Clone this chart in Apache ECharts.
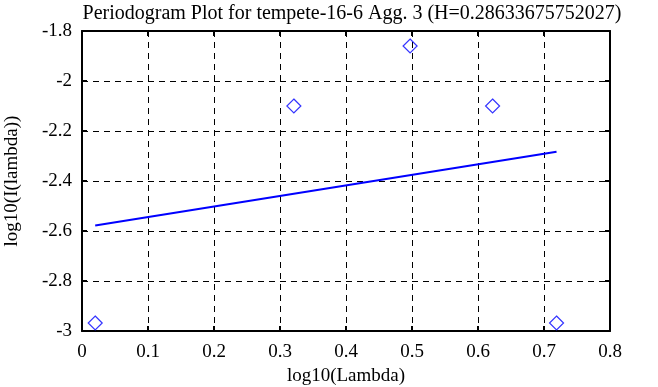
<!DOCTYPE html>
<html><head><meta charset="utf-8">
<script src="https://cdn.jsdelivr.net/npm/echarts@6/dist/echarts.min.js"></script>
<style>html,body{margin:0;padding:0;background:#fff}#c{width:658px;height:387px}</style>
</head><body><div id="c"></div>
<script>
var titleText = 'Periodogram Plot for tempete-16-6 Agg. 3 (H=0.28633675752027)';
var xTicks = [0, 0.1, 0.2, 0.3, 0.4, 0.5, 0.6, 0.7, 0.8];
var yTicks = [-3, -2.8, -2.6, -2.4, -2.2, -2, -1.8];
var logLambda = [0.0200, 0.3210, 0.4971, 0.6221, 0.7190];
var logPeriod = [-2.968, -2.10, -1.86, -2.10, -2.968];
var fitX = [0.0200, 0.7190];
var fitY = [-2.578, -2.283];

var font = 'Liberation Serif';
var chart = echarts.init(document.getElementById('c'));
var ticksCommon = {show: true, inside: true, length: 5, lineStyle: {color: '#000', width: 2}};
var lineCommon = {show: true, onZero: false, lineStyle: {color: '#000', width: 2}};
chart.setOption({
  animation: false,
  backgroundColor: '#fff',
  title: {text: titleText, left: 347, textAlign: 'center', top: -1,
    textStyle: {fontFamily: font, fontWeight: 'normal', fontSize: 20, color: '#000'}},
  grid: {left: 82, right: 48, top: 31, bottom: 56, outerBoundsMode: 'none', containLabel: false},
  xAxis: [{
    type: 'value', min: xTicks[0], max: xTicks[xTicks.length-1], interval: 0.1,
    name: 'log10(Lambda)', nameLocation: 'middle', nameGap: 35,
    nameTextStyle: {fontFamily: font, fontSize: 19, color: '#000'},
    axisLine: lineCommon, axisTick: ticksCommon,
    axisLabel: {fontFamily: font, fontSize: 19, color: '#000', margin: 12,
      formatter: function(v){ return String(Math.round(v*10)/10); }},
    splitLine: {show: true, lineStyle: {color: '#000', width: 1, type: [6, 5]}}
  }, {
    type: 'value', position: 'top', min: 0, max: 0.8, interval: 0.1,
    axisLine: lineCommon, axisTick: ticksCommon, axisLabel: {show: false}, splitLine: {show: false}
  }],
  yAxis: [{
    type: 'value', min: yTicks[0], max: yTicks[yTicks.length-1], interval: 0.2,
    name: 'log10(I(lambda))', nameLocation: 'middle', nameGap: 60, nameRotate: 90,
    nameTextStyle: {fontFamily: font, fontSize: 19, color: '#000'},
    axisLine: lineCommon, axisTick: ticksCommon,
    axisLabel: {fontFamily: font, fontSize: 19, color: '#000', margin: 10,
      formatter: function(v){ return String(Math.round(v*10)/10); }},
    splitLine: {show: true, lineStyle: {color: '#000', width: 1, type: [6, 5]}}
  }, {
    type: 'value', position: 'right', min: -3, max: -1.8, interval: 0.2,
    axisLine: lineCommon, axisTick: ticksCommon, axisLabel: {show: false}, splitLine: {show: false}
  }],
  series: [{
    type: 'scatter', symbol: 'diamond', symbolSize: 14,
    data: logLambda.map(function(x, i){ return [x, logPeriod[i]]; }),
    itemStyle: {color: 'rgba(0,0,0,0)', borderColor: '#0000ff', borderWidth: 1.2}
  }, {
    type: 'line', showSymbol: false, symbol: 'none',
    data: fitX.map(function(x, i){ return [x, fitY[i]]; }),
    lineStyle: {color: '#0000ff', width: 2}
  }]
});
</script></body></html>
